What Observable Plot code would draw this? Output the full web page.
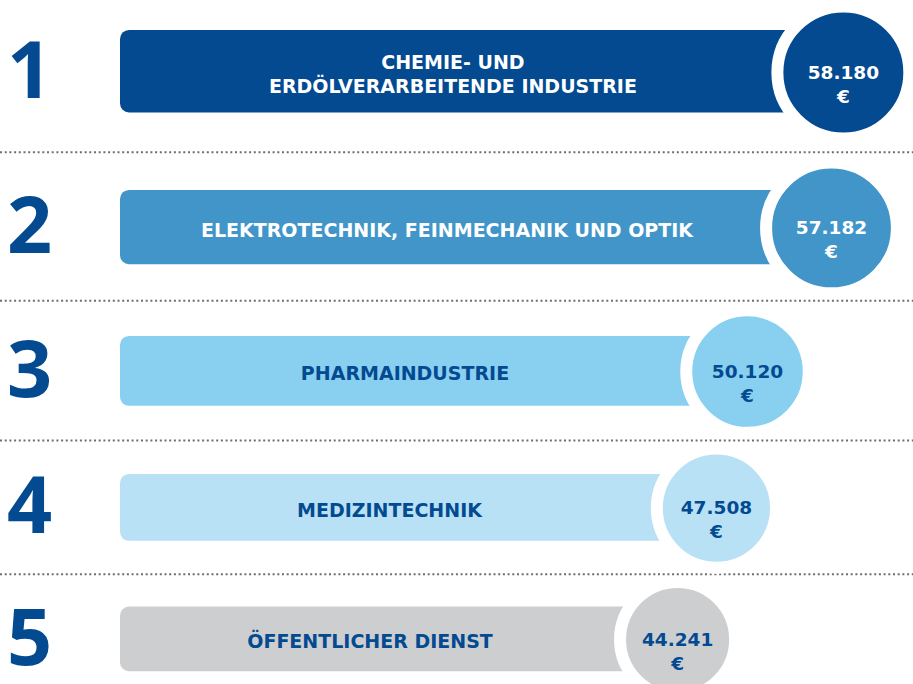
<!DOCTYPE html>
<html>
<head>
<meta charset="utf-8">
<script src="https://cdn.jsdelivr.net/npm/d3@7"></script>
<script src="https://cdn.jsdelivr.net/npm/@observablehq/plot@0.6"></script>
<style>
  html, body { margin: 0; padding: 0; background: #fff; overflow: hidden; }
  #chart svg { display: block; }
</style>
</head>
<body>
<div id="chart"></div>
<script>
// ---- data ----
const ranks = [1, 2, 3, 4, 5];
const industries = [
  "CHEMIE- UND\nERDÖLVERARBEITENDE INDUSTRIE",
  "ELEKTROTECHNIK, FEINMECHANIK UND OPTIK",
  "PHARMAINDUSTRIE",
  "MEDIZINTECHNIK",
  "ÖFFENTLICHER DIENST"
];
const salaries = [58180, 57182, 50120, 47508, 44241];
const currency = "€";

// ---- styles ----
const palette = ["#034a91", "#4195c9", "#88cff0", "#b9e1f5", "#cdced0"];
const darkBlue = "#034a91";
const labelFont = "'DejaVu Sans', sans-serif";

const fmt = d3.formatLocale({decimal: ",", thousands: ".", grouping: [3], currency: ["", " €"]}).format(",d");

const data = ranks.map((r, i) => ({
  rank: r,
  label: industries[i],
  value: salaries[i],
  valueText: fmt(salaries[i]) + "\n" + currency
}));

const xDomain = [-2600, 60000];
const separators = ranks.slice(1).map(r => r - 0.5);
const lightText = d => d.rank <= 2;

const labelOpts = {fontSize: 19, fontWeight: 700, fontFamily: labelFont, lineHeight: 1.27, dx: -29, dy: 1};
const valueOpts = {fontSize: 18.5, fontWeight: 700, fontFamily: labelFont, lineHeight: 1.3, dy: 10.5};

const chart = Plot.plot({
  width: 913,
  height: 684,
  margin: 0,
  style: {fontFamily: "'Open Sans', sans-serif", background: "#fff"},
  x: {domain: xDomain, range: [120, 864.5], axis: null},
  y: {type: "pow", exponent: 0.85, domain: [1, 5], range: [72, 639], axis: null},
  r: {type: "sqrt", domain: [0, 60000], range: [0, 67]},
  color: {type: "ordinal", domain: ranks, range: palette},
  marks: [
    Plot.ruleY(separators, {stroke: "#6d6e70", strokeWidth: 2, strokeDasharray: "2 2.7"}),
    Plot.rect(data, {
      x1: () => xDomain[0], x2: "value",
      y1: d => d.rank - 0.25, y2: d => d.rank + 0.25,
      fill: "rank", rx: 9
    }),
    Plot.dot(data, {x: "value", y: "rank", r: "value", fill: "rank", stroke: "white", strokeWidth: 12}),
    Plot.text(data, {
      y: "rank", text: d => String(d.rank), frameAnchor: "left", dx: 29,
      textAnchor: "middle", fontSize: 79, fontWeight: 700, fill: darkBlue
    }),
    Plot.text(data.filter(lightText), {
      x: d => (xDomain[0] + d.value) / 2, y: "rank", text: "label", fill: "white", ...labelOpts
    }),
    Plot.text(data.filter(d => !lightText(d)), {
      x: d => (xDomain[0] + d.value) / 2, y: "rank", text: "label", fill: darkBlue, ...labelOpts
    }),
    Plot.text(data.filter(lightText), {
      x: "value", y: "rank", text: "valueText", fill: "white", ...valueOpts
    }),
    Plot.text(data.filter(d => !lightText(d)), {
      x: "value", y: "rank", text: "valueText", fill: darkBlue, ...valueOpts
    })
  ]
});
document.getElementById("chart").append(chart);
</script>
</body>
</html>
